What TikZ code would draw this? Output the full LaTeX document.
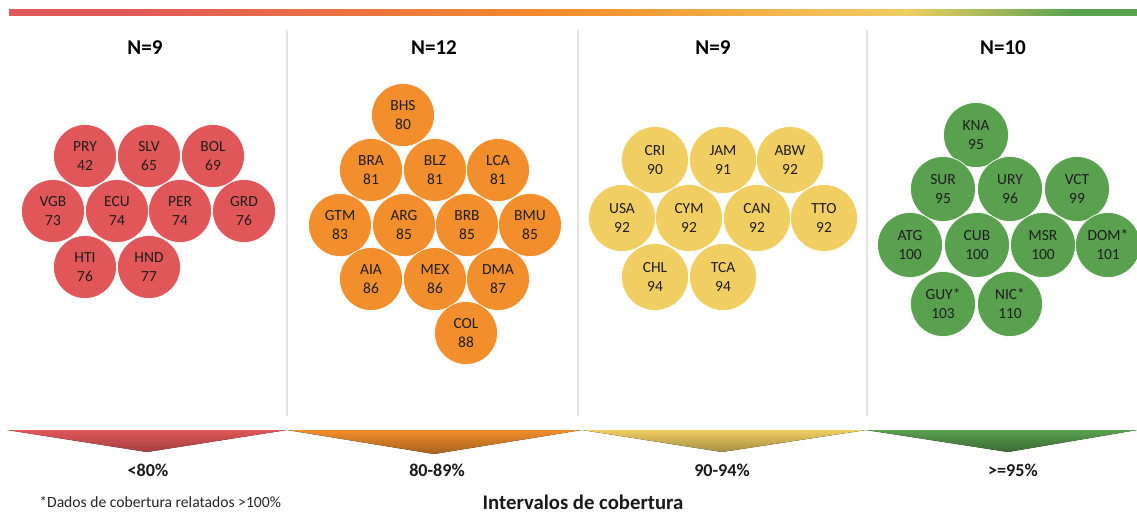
\documentclass[tikz,border=0pt]{standalone}
\usepackage{fontspec}
\setmainfont{Carlito}
\definecolor{cred}{HTML}{E15759}
\definecolor{corange}{HTML}{F28E2B}
\definecolor{cyellow}{HTML}{F0CE62}
\definecolor{cgreen}{HTML}{59A14F}
\definecolor{ctext}{HTML}{1E1E1E}
\definecolor{cdiv}{HTML}{E4E4E4}
\begin{document}
\begin{tikzpicture}[x=0.02cm,y=-0.02cm,
  bub/.style={circle, draw=white, line width=0.4pt, inner sep=0pt, align=center, text=ctext, font=\fontsize{8.8}{10.8}\selectfont},
  rb/.style={bub, fill=cred, minimum size=1.26cm},
  ob/.style={bub, fill=corange, minimum size=1.26cm},
  yb/.style={bub, fill=cyellow, minimum size=1.34cm},
  gb/.style={bub, fill=cgreen, minimum size=1.30cm},
  head/.style={font=\bfseries\fontsize{12}{14}\selectfont, text=black},
  rangelbl/.style={font=\bfseries\fontsize{10.3}{12}\selectfont, text=black!90},
  divider/.style={draw=cdiv, line width=0.8pt}]
\useasboundingbox (0,0) rectangle (1137,512);
% top gradient bar
\fill[left color=cred, right color=cred] (9,9.5) rectangle (120,15.5);
\fill[left color=cred, right color=corange] (119.5,9.5) rectangle (566.5,15.5);
\fill[left color=corange, right color=cyellow] (566,9.5) rectangle (906.5,15.5);
\fill[left color=cyellow, right color=cgreen] (906,9.5) rectangle (1073.5,15.5);
\fill[left color=cgreen, right color=cgreen] (1073,9.5) rectangle (1137,15.5);
% dividers
\coordinate (d1t) at (287,30); \coordinate (d1b) at (287,416);
\coordinate (d2t) at (578,30); \coordinate (d2b) at (578,416);
\coordinate (d3t) at (867,30); \coordinate (d3b) at (867,416);
\draw[divider] (d1t) -- (d1b);
\draw[divider] (d2t) -- (d2b);
\draw[divider] (d3t) -- (d3b);
% headings
\node[head] (h1) at (145,48) {N=9};
\node[head] (h2) at (434,48) {N=12};
\node[head] (h3) at (713,48) {N=9};
\node[head] (h4) at (1003,48) {N=10};
% red cluster
\node[rb] (PRY) at (85,156) {PRY\\42};
\node[rb] (SLV) at (149,156) {SLV\\65};
\node[rb] (BOL) at (213,156) {BOL\\69};
\node[rb] (VGB) at (53,211) {VGB\\73};
\node[rb] (ECU) at (117,211) {ECU\\74};
\node[rb] (PER) at (180,211) {PER\\74};
\node[rb] (GRD) at (244,211) {GRD\\76};
\node[rb] (HTI) at (85,267) {HTI\\76};
\node[rb] (HND) at (149,267) {HND\\77};
% orange cluster
\node[ob] (BHS) at (403,115) {BHS\\80};
\node[ob] (BRA) at (371,170) {BRA\\81};
\node[ob] (BLZ) at (435,170) {BLZ\\81};
\node[ob] (LCA) at (498,170) {LCA\\81};
\node[ob] (GTM) at (340,225) {GTM\\83};
\node[ob] (ARG) at (404,225) {ARG\\85};
\node[ob] (BRB) at (467,225) {BRB\\85};
\node[ob] (BMU) at (530,225) {BMU\\85};
\node[ob] (AIA) at (371,279) {AIA\\86};
\node[ob] (MEX) at (435,279) {MEX\\86};
\node[ob] (DMA) at (498,279) {DMA\\87};
\node[ob] (COL) at (466,333) {COL\\88};
% yellow cluster
\node[yb] (CRI) at (655,160) {CRI\\90};
\node[yb] (JAM) at (723,160) {JAM\\91};
\node[yb] (ABW) at (790,160) {ABW\\92};
\node[yb] (USA) at (622,218) {USA\\92};
\node[yb] (CYM) at (689,218) {CYM\\92};
\node[yb] (CAN) at (757,218) {CAN\\92};
\node[yb] (TTO) at (824,218) {TTO\\92};
\node[yb] (CHL) at (655,277) {CHL\\94};
\node[yb] (TCA) at (723,277) {TCA\\94};
% green cluster
\node[gb] (KNA) at (976,135) {KNA\\95};
\node[gb] (SUR) at (943,189) {SUR\\95};
\node[gb] (URY) at (1010,189) {URY\\96};
\node[gb] (VCT) at (1077,189) {VCT\\99};
\node[gb] (ATG) at (910,245) {ATG\\100};
\node[gb] (CUB) at (977,245) {CUB\\100};
\node[gb] (MSR) at (1043,245) {MSR\\100};
\node[gb] (DOM) at (1108,245) {DOM*\\101};
\node[gb] (GUY) at (943,304) {GUY*\\103};
\node[gb] (NIC) at (1010,304) {NIC*\\110};
% bottom wedges
\fill[top color=cred, bottom color=cred!72!black] (7,430) -- (287,430) -- (147,452) -- cycle;
\fill[top color=corange, bottom color=corange!68!black] (287,430) -- (582,430) -- (434,454) -- cycle;
\fill[top color=cyellow, bottom color=cyellow!68!black] (582,430) -- (866,430) -- (722,452) -- cycle;
\fill[top color=cgreen, bottom color=cgreen!65!black] (866,430) -- (1137,430) -- (1008,452) -- cycle;
% range labels
\node[rangelbl] (l1) at (148,470) {<80\%};
\node[rangelbl] (l2) at (437,470) {80-89\%};
\node[rangelbl] (l3) at (722,470) {90-94\%};
\node[rangelbl] (l4) at (1013,470) {>=95\%};
% footer
\node[anchor=west, inner sep=0pt, text=black!85, font=\fontsize{8.9}{11}\selectfont] (note) at (39,502) {*Dados de cobertura relatados >100\%};
\node[inner sep=0pt, text=black!90, font=\bfseries\fontsize{11.8}{14}\selectfont] (title) at (583,502) {Intervalos de cobertura};
\end{tikzpicture}
\end{document}
